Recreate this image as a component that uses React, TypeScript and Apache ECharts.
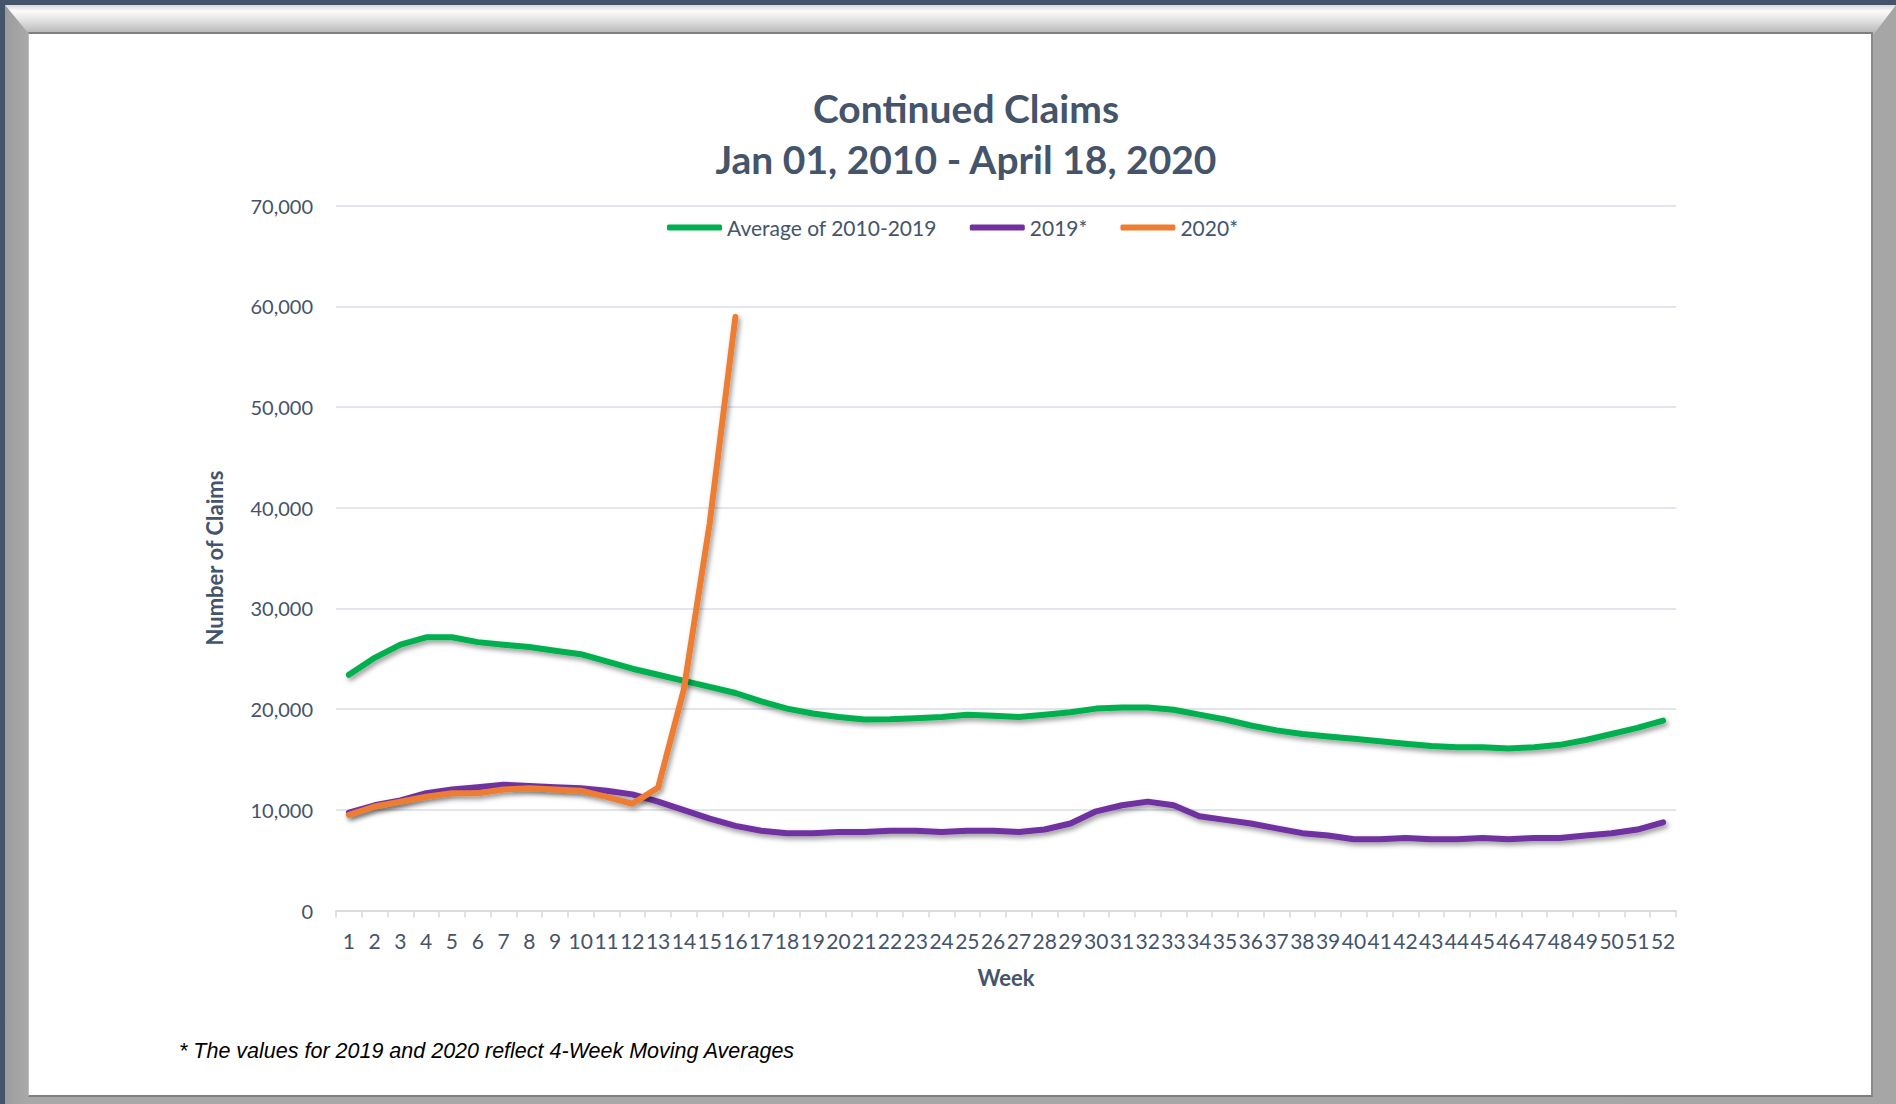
import React, { useEffect, useRef } from "react";
import * as echarts from "echarts";

const weeks: string[] = Array.from({ length: 52 }, (_, i) => String(i + 1));

const avg2010_2019: number[] = [
  23410, 25090, 26410, 27130, 27130, 26650, 26400, 26170, 25800, 25450,
  24730, 24010, 23410, 22810, 22210, 21600, 20770, 20050, 19570, 19210,
  18970, 18990, 19090, 19210, 19450, 19330, 19210, 19450, 19690, 20050,
  20170, 20170, 19930, 19450, 18970, 18370, 17890, 17530, 17290, 17050,
  16810, 16570, 16330, 16210, 16210, 16090, 16210, 16450, 16930, 17530,
  18130, 18850,
];

const y2019: number[] = [
  9730, 10450, 10930, 11650, 12010, 12250, 12490, 12370, 12250, 12130,
  11890, 11530, 10810, 9970, 9120, 8400, 7920, 7680, 7680, 7800,
  7800, 7920, 7920, 7800, 7920, 7920, 7800, 8040, 8640, 9850,
  10450, 10810, 10450, 9360, 9000, 8640, 8160, 7680, 7440, 7080,
  7080, 7200, 7080, 7080, 7200, 7080, 7200, 7200, 7440, 7680,
  8040, 8760,
];

const y2020: number[] = [
  9490, 10330, 10810, 11290, 11650, 11650, 12010, 12130, 12010, 11890,
  11290, 10600, 12200, 21970, 38420, 58950,
];

const seriesNames = ["Average of 2010-2019", "2019*", "2020*"];
const seriesColors = ["#00b050", "#7030a0", "#ed7d31"];

const titleLines = ["Continued Claims", "Jan 01, 2010 - April 18, 2020"];
const footnote = "* The values for 2019 and 2020 reflect 4-Week Moving Averages";

const TEXT = "#44546a";
const FONT = "Lato, 'Open Sans', sans-serif";

export default function App() {
  const ref = useRef<HTMLDivElement>(null);

  useEffect(() => {
    if (!ref.current) return;
    const chart = echarts.init(ref.current, undefined, { renderer: "svg" });
    const shadow = {
      shadowColor: "rgba(0,0,0,0.4)",
      shadowBlur: 5,
      shadowOffsetX: 2,
      shadowOffsetY: 3,
    };
    const datasets = [avg2010_2019, y2019, y2020];
    chart.setOption({
      animation: false,
      backgroundColor: "transparent",
      textStyle: { fontFamily: FONT },
      graphic: [
        {
          type: "text",
          x: 966,
          y: 108,
          style: {
            text: titleLines[0],
            fill: TEXT,
            font: `bold 39px ${FONT}`,
            textAlign: "center",
            textVerticalAlign: "middle",
          },
        },
        {
          type: "text",
          x: 966,
          y: 159,
          style: {
            text: titleLines[1],
            fill: TEXT,
            font: `bold 39px ${FONT}`,
            textAlign: "center",
            textVerticalAlign: "middle",
          },
        },
        {
          type: "text",
          x: 179,
          y: 1051,
          style: {
            text: footnote,
            fill: "#000000",
            font: `italic 21.5px 'Liberation Sans', Arial, sans-serif`,
            textAlign: "left",
            textVerticalAlign: "middle",
          },
        },
      ],
      legend: {
        data: seriesNames,
        left: 662,
        top: 212,
        icon: "roundRect",
        itemWidth: 55,
        itemHeight: 6,
        itemGap: 33,
        textStyle: { color: TEXT, fontSize: 21, fontFamily: FONT },
      },
      grid: {
        left: 336,
        right: 220,
        top: 205.6,
        bottom: 193.5,
        containLabel: false,
        outerBoundsMode: "none",
      },
      xAxis: {
        type: "category",
        data: weeks,
        boundaryGap: true,
        name: "Week",
        nameLocation: "middle",
        nameGap: 56,
        nameTextStyle: { color: TEXT, fontSize: 22, fontWeight: "bold", fontFamily: FONT },
        axisLine: { lineStyle: { color: "#d9d9d9", width: 1.5 } },
        axisTick: { show: true, length: 7, lineStyle: { color: "#d9d9d9", width: 1.5 } },
        axisLabel: {
          interval: 0,
          hideOverlap: false,
          color: TEXT,
          fontSize: 21,
          margin: 19,
          fontFamily: FONT,
        },
        splitLine: { show: false },
      },
      yAxis: {
        type: "value",
        min: 0,
        max: 70000,
        interval: 10000,
        name: "Number of Claims",
        nameLocation: "middle",
        nameGap: 111,
        nameRotate: 90,
        nameTextStyle: { color: TEXT, fontSize: 22, fontWeight: "bold", fontFamily: FONT },
        axisLine: { show: false },
        axisTick: { show: false },
        axisLabel: {
          color: TEXT,
          fontSize: 20,
          margin: 23,
          fontFamily: FONT,
          formatter: (v: number) => v.toLocaleString("en-US"),
        },
        splitLine: { lineStyle: { color: "#d9dee6", width: 1.5 } },
      },
      series: seriesNames.map((name, i) => ({
        name,
        type: "line",
        data: datasets[i],
        showSymbol: false,
        symbol: "none",
        color: seriesColors[i],
        lineStyle: {
          width: 6,
          color: seriesColors[i],
          cap: "round",
          join: "round",
          ...shadow,
        },
        z: 2 + (i === 2 ? 1 : 0),
      })),
    });
    return () => chart.dispose();
  }, []);

  return (
    <div
      style={{
        position: "fixed",
        left: 0,
        top: 0,
        width: 1896,
        height: 1104,
        background: "#44546a",
        overflow: "hidden",
      }}
    >
      <div
        style={{
          position: "absolute",
          left: 5,
          top: 5,
          width: 1891,
          height: 1099,
          background: "linear-gradient(to right, #9c9c9c, #a8a8a8 20px, #a6a6a6)",
        }}
      />
      <div
        style={{
          position: "absolute",
          left: 5,
          top: 5,
          width: 1891,
          height: 29,
          background: "linear-gradient(to bottom, #d8d8d8 0px, #fbfbfb 6px, #e6e6e6 14px, #b4b4b4 29px)",
          clipPath: "polygon(0 0, 100% 0, calc(100% - 22px) 100%, 24px 100%)",
        }}
      />
      <div
        style={{
          position: "absolute",
          left: 28,
          top: 32,
          width: 1845,
          height: 1065,
          background: "#ffffff",
          borderTop: "2px solid #7f7f7f",
          borderRight: "2px solid #8a8a8a",
          borderBottom: "2px solid #7f7f7f",
          borderLeft: "1px solid #bdbdbd",
          boxSizing: "border-box",
        }}
      />
      <div
        ref={ref}
        style={{ position: "absolute", left: 0, top: 0, width: 1896, height: 1104 }}
      />
    </div>
  );
}
